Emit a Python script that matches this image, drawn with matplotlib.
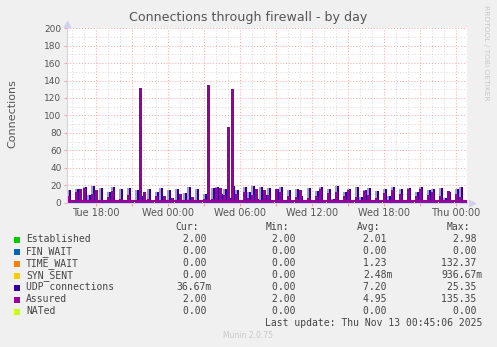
import numpy as np
import matplotlib
matplotlib.use('Agg')
import matplotlib.pyplot as plt
from matplotlib.patches import Rectangle

# time axis: 20 minute samples, hours counted from Tue 00:00
start_h = 15 + 35/60
step_h = 20/60

udp = [14, 1, 16, 2, 18, 9, 19, 3, 17, 1,
       12, 18, 1, 15, 3, 17, 0, 14, 8, 1,
       16, 0, 12, 17, 2, 14, 0, 16, 3, 11,
       18, 1, 15, 0, 10, 3, 17, 18, 10, 15,
       5, 19, 14, 1, 18, 12, 19, 4, 18, 9,
       17, 0, 15, 18, 3, 14, 0, 16, 8, 1,
       17, 2, 13, 18, 0, 15, 4, 19, 1, 12,
       16, 0, 18, 6, 14, 17, 2, 13, 0, 16,
       8, 18, 1, 15, 3, 17, 0, 12, 18, 2,
       14, 16, 0, 17, 5, 12, 0, 15, 18, 1]

assured = [8, 2, 12, 16, 17, 3, 10, 14, 2, 2,
           6, 13, 2, 4, 2, 9, 2, 3, 132, 12,
           4, 2, 7, 2, 8, 2, 5, 2, 10, 2,
           2, 6, 2, 2, 4, 135, 4, 17, 17, 9,
           87, 130, 10, 3, 12, 5, 9, 16, 3, 14,
           9, 2, 16, 12, 2, 8, 2, 6, 14, 2,
           5, 2, 7, 15, 3, 11, 2, 12, 2, 8,
           14, 2, 6, 3, 13, 9, 2, 5, 2, 11,
           2, 14, 2, 10, 3, 15, 2, 7, 16, 2,
           9, 12, 2, 8, 2, 13, 3, 10, 6, 2]

time_wait = [0]*100
time_wait[18] = 132
time_wait[41] = 5

established = [2]*100
nated = [0]*100

tick_hours = [18, 24, 30, 36, 42, 48]
tick_labels = ['Tue 18:00', 'Wed 00:00', 'Wed 06:00', 'Wed 12:00', 'Wed 18:00', 'Thu 00:00']

legend_names = ['Established', 'FIN_WAIT', 'TIME_WAIT', 'SYN_SENT', 'UDP connections', 'Assured', 'NATed']
legend_colors = ['#00CC00', '#0066B3', '#FF8000', '#FFCC00', '#330099', '#990099', '#CCFF00']
cur = ['2.00 ', '0.00 ', '0.00 ', '0.00 ', '36.67m', '2.00 ', '0.00 ']
mins = ['2.00 ', '0.00 ', '0.00 ', '0.00 ', '0.00 ', '2.00 ', '0.00 ']
avgs = ['2.01 ', '0.00 ', '1.23 ', '2.48m', '7.20 ', '4.95 ', '0.00 ']
maxs = ['2.98 ', '0.00 ', '132.37 ', '936.67m', '25.35 ', '135.35 ', '0.00 ']

W, H = 497, 347
fig = plt.figure(figsize=(W/100, H/100), dpi=100, facecolor='#F0F0F0')
ax = fig.add_axes([67/W, (H-202.5)/H, 400/W, 174.2/H])
ax.set_facecolor('white')

n = len(udp)
t = start_h + step_h*(np.arange(n) + 0.5)

ax.plot(t, nated, color='#CCFF00', lw=1, zorder=1.5)
ax.bar(t, time_wait, width=step_h*0.6, color='#FF8000', lw=0, zorder=2)
# lavender halo then the dark UDP line
ax.bar(t - step_h*0.15, udp, width=step_h*0.9, color='#a898d6', lw=0, zorder=2.05)
ax.bar(t + step_h*0.15, udp, width=step_h*0.55, color='#330099', lw=0, zorder=2.1)
ax.plot(t, established, color='#00CC00', lw=1, zorder=2.2)
ax.bar(t - step_h*0.1, assured, width=step_h*0.7, color='#990099', lw=0, zorder=2.3)
ax.axhline(2, color='#990099', lw=1.5, zorder=2.25)

ax.set_xlim(start_h, start_h + step_h*n)
ax.set_ylim(0, 200)

ax.set_yticks(np.arange(0, 201, 20))
ax.set_yticks(np.arange(0, 201, 10), minor=True)
major_x = np.arange(18, 49, 3)
ax.set_xticks(major_x)
ax.set_xticklabels([tick_labels[tick_hours.index(h)] if h in tick_hours else '' for h in major_x])
ax.set_xticks(np.arange(16, 49, 1), minor=True)
ax.grid(which='minor', color='#d8d8d8', linestyle=(0, (1, 2)), lw=0.7, zorder=0)
ax.grid(which='major', color='#f0a8a8', linestyle=(0, (1, 2)), lw=0.7, zorder=0)
ax.set_axisbelow(True)
ax.tick_params(which='both', length=2, color='#f0a8a8', labelsize=6.5, labelcolor='#555555', pad=2)
ax.tick_params(axis='x', labelsize=7)
ax.tick_params(which='minor', length=0)

for s in ['top', 'right']:
    ax.spines[s].set_visible(False)
for s in ['left', 'bottom']:
    ax.spines[s].set_color('#d0d0f0')
    ax.spines[s].set_linewidth(0.8)
ax.plot(0, 1.025, marker='^', color='#d0d0f0', ms=4, transform=ax.transAxes, clip_on=False)
ax.plot(1.012, 0, marker='>', color='#d0d0f0', ms=4, transform=ax.transAxes, clip_on=False)

def ftext(x, y, s, **kw):
    fig.text(x/W, 1 - y/H, s, **kw)

ftext(248, 18, 'Connections through firewall - by day', ha='center', va='center',
      fontsize=9.1, color='#555555')
ftext(12, 114, 'Connections', ha='center', va='center', rotation=90, fontsize=8, color='#555555')
ftext(486, 53, 'RRDTOOL / TOBI OETIKER', ha='center', va='center', rotation=270,
      fontsize=5.4, color='#c8c8c8')

mono = dict(family='DejaVu Sans Mono', fontsize=7, color='#444444', va='center')
ftext(199, 227.5, 'Cur:', ha='right', **mono)
ftext(289.5, 227.5, 'Min:', ha='right', **mono)
ftext(380, 227.5, 'Avg:', ha='right', **mono)
ftext(470, 227.5, 'Max:', ha='right', **mono)
for i, name in enumerate(legend_names):
    y = 239.5 + 12*i
    fig.patches.append(Rectangle((14/W, 1 - (y+3)/H), 6/W, 6/H, transform=fig.transFigure,
                                 facecolor=legend_colors[i], edgecolor='none'))
    ftext(26, y, name, ha='left', **mono)
    ftext(212, y, cur[i], ha='right', **mono)
    ftext(301.5, y, mins[i], ha='right', **mono)
    ftext(392.3, y, avgs[i], ha='right', **mono)
    ftext(482.3, y, maxs[i], ha='right', **mono)
ftext(482.3, 323.5, 'Last update: Thu Nov 13 00:45:06 2025', ha='right', **mono)
ftext(248, 336, 'Munin 2.0.75', ha='center', va='center', fontsize=5.5, color='#c8c8c8')

fig.savefig('out.png', dpi=100, facecolor=fig.get_facecolor())
